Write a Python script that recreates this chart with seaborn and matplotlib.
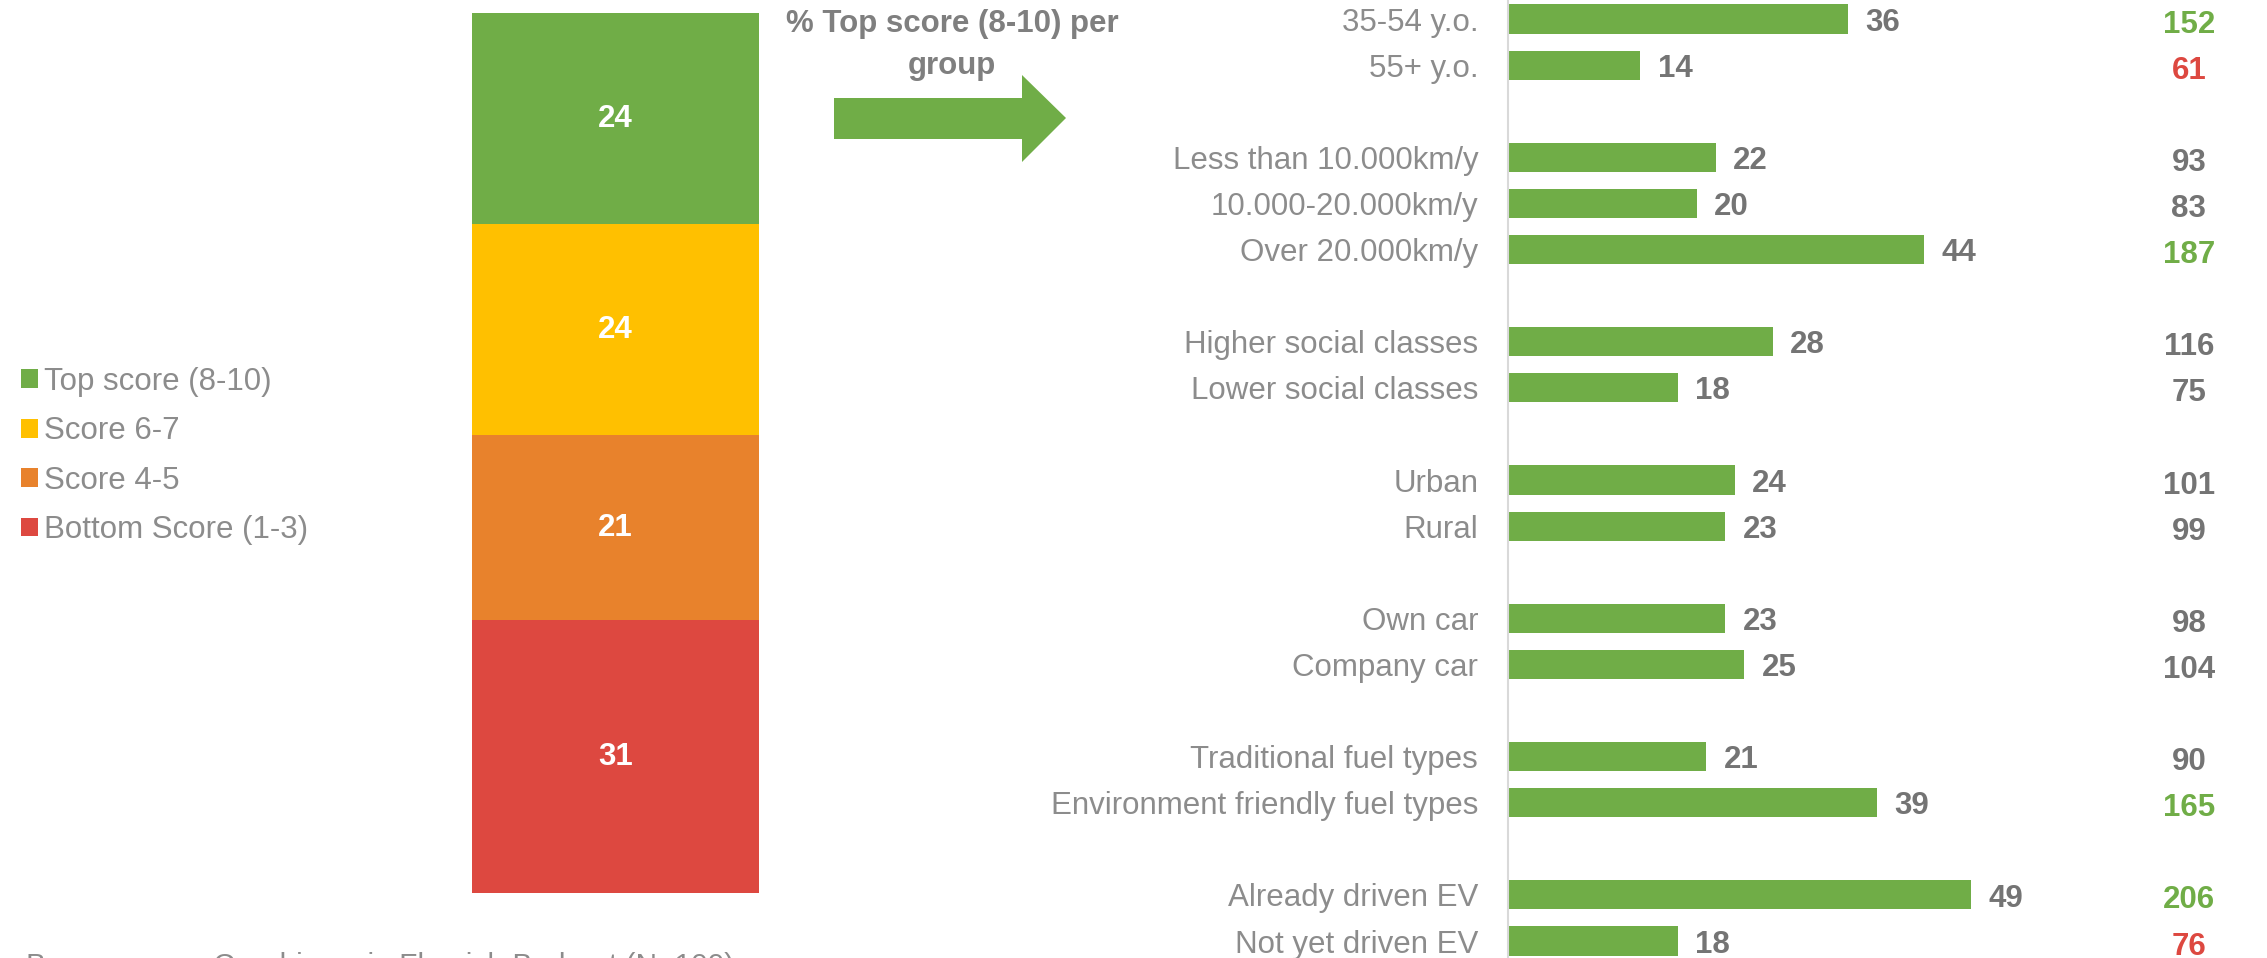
import numpy as np
import pandas as pd
import seaborn as sns
import matplotlib.pyplot as plt
import matplotlib.transforms as mtransforms
from matplotlib.patches import Polygon, Patch

# overall score distribution (stacked bar, top to bottom)
score_labels = ['Top score (8-10)', 'Score 6-7', 'Score 4-5', 'Bottom Score (1-3)']
score_values = [24, 24, 21, 31]

# % top score per group
groups = [
    ['35-54 y.o.', '55+ y.o.'],
    ['Less than 10.000km/y', '10.000-20.000km/y', 'Over 20.000km/y'],
    ['Higher social classes', 'Lower social classes'],
    ['Urban', 'Rural'],
    ['Own car', 'Company car'],
    ['Traditional fuel types', 'Environment friendly fuel types'],
    ['Already driven EV', 'Not yet driven EV'],
]
top_pct = [36, 14, 22, 20, 44, 28, 18, 24, 23, 23, 25, 21, 39, 49, 18]
index_vals = [152, 61, 93, 83, 187, 116, 75, 101, 99, 98, 104, 90, 165, 206, 76]
# significance vs total: '+' higher, '-' lower, '' not significant
signif = ['+', '-', '', '', '+', '', '', '', '', '', '', '', '+', '+', '-']

W, H = 2267, 958
GREEN = '#70AD47'
YELLOW = '#FFC000'
ORANGE = '#E8822C'
RED = '#DD4840'
score_colors = [GREEN, YELLOW, ORANGE, RED]
LABEL_GRAY = '#8C8C8C'
VALUE_GRAY = '#747474'
sig_colors = {'+': GREEN, '-': RED, '': VALUE_GRAY}

sns.set_style('white')
plt.rcParams['font.family'] = ['Liberation Sans', 'DejaVu Sans']
FS = 22.5

fig = plt.figure(figsize=(W / 100, H / 100), dpi=100)

# ---- stacked bar on the left
ax_s = fig.add_axes([472 / W, (H - 893) / H, 287 / W, 880 / H])
cum = np.cumsum(score_values[::-1])[::-1]
for c, col in zip(cum, score_colors):
    sns.barplot(x=['total'], y=[c], color=col, saturation=1, width=1, linewidth=0,
                ax=ax_s)
for c, v in zip(cum, score_values):
    ax_s.text(0, c - v / 2, str(v), ha='center', va='center', color='white',
              fontsize=FS, fontweight='bold')
ax_s.set_ylim(0, 100)
ax_s.set_xlim(-0.5, 0.5)
ax_s.axis('off')

handles = [Patch(facecolor=col, edgecolor='none') for col in score_colors]
fig.legend(handles, score_labels, loc='center left', bbox_to_anchor=(8 / W, 1 - 456 / H),
           frameon=False, fontsize=FS, labelcolor=LABEL_GRAY, handlelength=0.55,
           handleheight=0.55, handletextpad=0.2, labelspacing=0.62, borderaxespad=0)

# ---- arrow and heading
arrow_px = [(834, 98), (1022, 98), (1022, 75), (1066, 118), (1022, 162), (1022, 139), (834, 139)]
fig.patches.append(Polygon([(x / W, 1 - y / H) for x, y in arrow_px], closed=True,
                           facecolor=GREEN, edgecolor='none', transform=fig.transFigure))
fig.text(952 / W, 1 - 45 / H, '% Top score (8-10) per\ngroup', ha='center', va='center',
         fontsize=FS, fontweight='bold', color='#7F7F7F', linespacing=1.5)

# ---- per-group bars on the right
order = []
for i, g in enumerate(groups):
    if i > 0:
        order.append(' ' * i)
    order.extend(g)
labels = [lab for g in groups for lab in g]
df = pd.DataFrame({'group': labels, 'pct': top_pct})

ax = fig.add_axes([1508 / W, 0, 1 - 1508 / W, 1])
sns.barplot(data=df, y='group', x='pct', order=order, color=GREEN, saturation=1,
            width=0.63, linewidth=0, ax=ax)
pitch = 46.1
ax.set_ylim((H - 19) / pitch, -19 / pitch)
ax.set_xlim(0, (W - 1508) / 9.45)

# value labels just right of each bar
for lab, v in zip(labels, top_pct):
    ax.annotate(str(v), (v, order.index(lab) + 0.08), xytext=(12.5, 0),
                textcoords='offset points', ha='left', va='center', fontsize=FS,
                fontweight='bold', color=VALUE_GRAY)

trans = mtransforms.blended_transform_factory(ax.transAxes, ax.transData)
for lab, v, s in zip(labels, index_vals, signif):
    ax.text(0.897, order.index(lab) + 0.12, str(v), transform=trans, ha='center',
            va='center', fontsize=FS, fontweight='bold', color=sig_colors[s])

ax.set_xlabel('')
ax.set_ylabel('')
ax.set_xticks([])
ax.tick_params(axis='y', length=0, pad=21.5, labelsize=FS, labelcolor=LABEL_GRAY)
for side in ['top', 'right', 'bottom']:
    ax.spines[side].set_visible(False)
ax.spines['left'].set_color('#D9D9D9')
ax.spines['left'].set_linewidth(1.5)

# footnote, mostly below the visible area
fig.text(26 / W, 1 - 974 / H, 'Base: survey, Car drivers in Flemish Brabant (N=100)',
         ha='left', va='baseline', fontsize=FS - 1, color=LABEL_GRAY)

fig.savefig('out.png', dpi=100)
